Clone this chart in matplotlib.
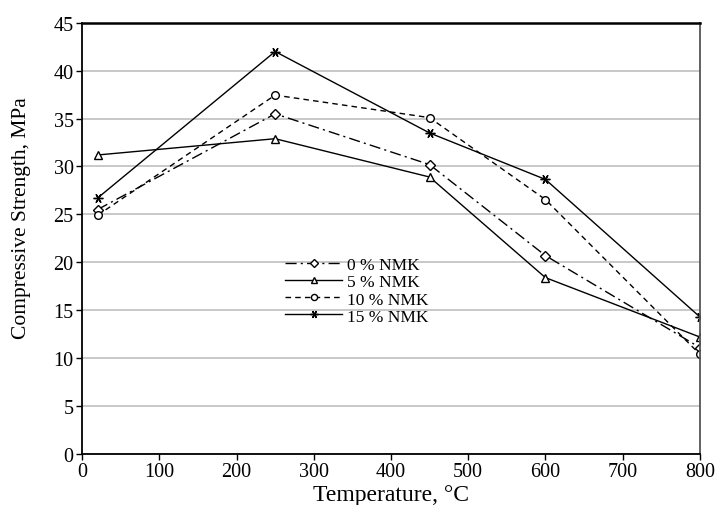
import numpy as np
import matplotlib.pyplot as plt

plt.rcParams['font.family'] = ['Liberation Serif', 'DejaVu Serif']

# Compressive strength after exposure to each temperature
temperature = [20, 250, 450, 600, 800]
nmk_0 = [25.5, 35.5, 30.2, 20.7, 11.1]
nmk_5 = [31.2, 32.9, 28.9, 18.4, 12.2]
nmk_10 = [24.9, 37.45, 35.1, 26.55, 10.4]
nmk_15 = [26.7, 42.0, 33.5, 28.65, 14.3]

fig = plt.figure(figsize=(7.2, 5.06), dpi=100)
ax = fig.add_axes([0.114, 0.101, 0.858, 0.852])

ax.plot(temperature, nmk_0, color='black', lw=1, ls=(0, (8, 3, 1.5, 3)),
        marker='D', ms=5, mfc='white', mec='black', label='0 % NMK')
ax.plot(temperature, nmk_5, color='black', lw=1, ls='-',
        marker='^', ms=6, mfc='white', mec='black', label='5 % NMK')
ax.plot(temperature, nmk_10, color='black', lw=1, ls=(0, (4, 3)),
        marker='o', ms=5.5, mfc='white', mec='black', label='10 % NMK')
ax.plot(temperature, nmk_15, color='black', lw=1, ls='-',
        marker=(6, 2, 90), ms=7, mec='black', label='15 % NMK')

ax.set_xlim(0, 800)
ax.set_ylim(0, 45)
ax.set_xticks(np.arange(0, 801, 100))
ax.set_yticks(np.arange(0, 46, 5))
ax.yaxis.grid(True, color='#c4c4c4', lw=1.3)
ax.set_axisbelow(True)

ax.tick_params(labelsize=14.5, direction='out', length=4, width=1,
               colors='black', pad=2)
ax.spines['top'].set_linewidth(1.8)
ax.spines['left'].set_linewidth(1.3)
ax.spines['bottom'].set_linewidth(1.3)
ax.spines['right'].set_color('#555555')
ax.spines['right'].set_linewidth(1.3)

ax.set_xlabel('Temperature, \u00b0C', fontsize=17, labelpad=2)
ax.set_ylabel('Compressive Strength, MPa', fontsize=15.5)
ax.yaxis.set_label_coords(-0.083, 0.55)

ax.legend(loc='center', bbox_to_anchor=(0.445, 0.378), frameon=False,
          fontsize=12.5, handlelength=3.3, handletextpad=0.3,
          labelspacing=0.05, markerscale=0.8)

fig.savefig('out.png', dpi=100)
